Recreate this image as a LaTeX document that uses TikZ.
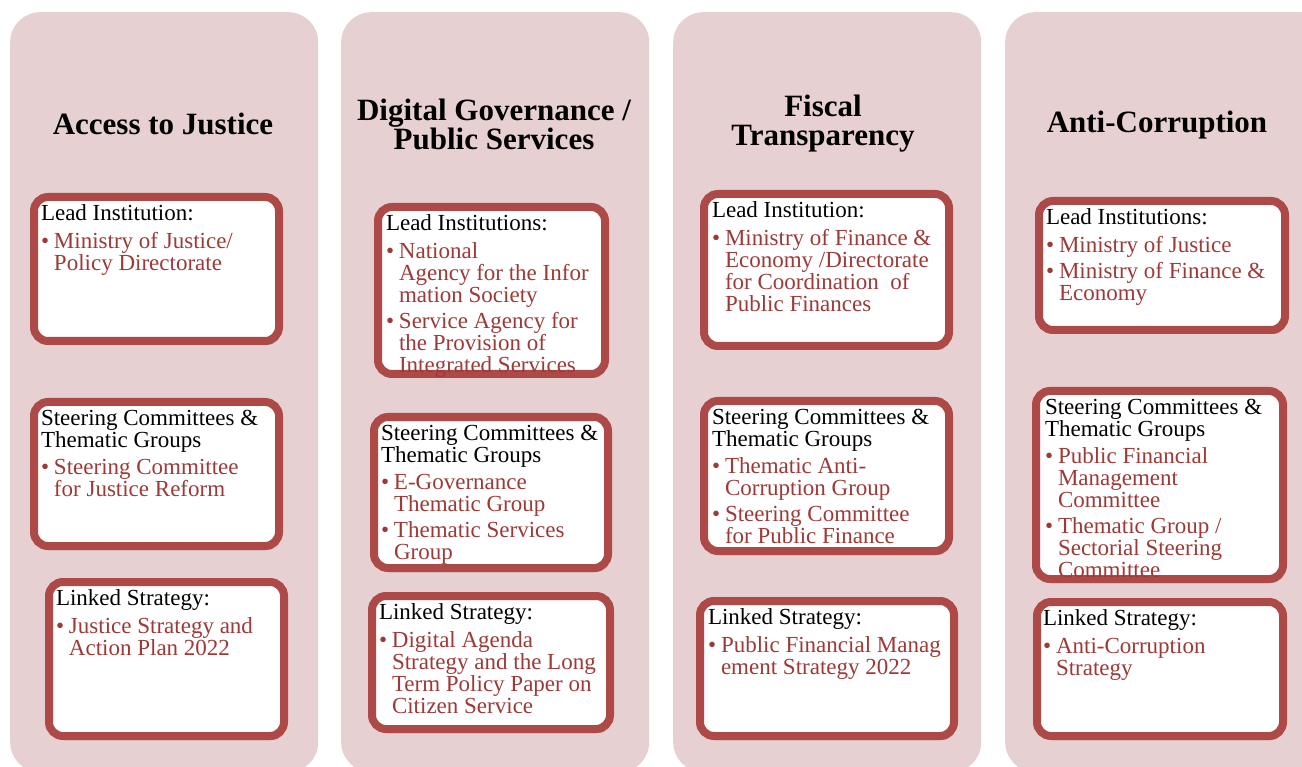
\documentclass[tikz,border=0pt]{standalone}
\usepackage{fontspec}
\setmainfont{Liberation Serif}
\usetikzlibrary{positioning,shadows}
\definecolor{colpink}{HTML}{E7D0D1}
\definecolor{boxred}{HTML}{AD4A47}
\definecolor{itemred}{HTML}{9D3A37}
\newcommand{\bul}{\color{itemred}\makebox[13pt][l]{\textbullet}}
\newcommand{\ind}{\color{itemred}\hspace*{13pt}}
\begin{document}
\begin{tikzpicture}[x=1pt,y=-1pt,
			column/.style={fill=colpink, rounded corners=30pt, anchor=north west, minimum width=308pt, minimum height=760pt},
			title/.style={font=\bfseries\fontsize{31pt}{29pt}\selectfont, align=center, inner sep=0pt},
			box/.style={draw=boxred, line width=8pt, fill=white, rounded corners=14pt, anchor=north west, inner sep=0pt,
				drop shadow={opacity=0.35, fill=black!70, shadow xshift=2pt, shadow yshift=-4pt}},
			boxtext/.style={font=\fontsize{23pt}{22pt}\selectfont, align=left, inner sep=0pt, outer sep=0pt, anchor=north west},
			]
			\useasboundingbox (0,0) rectangle (1302,767);
			\node[column] at (10,12) (justice) {};
			\node[column] at (341,12) (digital) {};
			\node[column] at (673,12) (fiscal) {};
			\node[column, minimum width=330pt] at (1005,12) (anticorr) {};
			\node[title] at (163,124) (justicetitle) {Access to Justice};
			\node[title] at (494,124) (digitaltitle) {Digital Governance /\\Public Services};
			\node[title] at (823,124) (fiscaltitle) {Fiscal\\Transparency};
			\node[title] at (1157,125) (anticorrtitle) {Anti-Corruption};
			\node[box, minimum width=245pt, minimum height=144pt] at (30,193) (jlead) {};
			\node[box, minimum width=245pt, minimum height=144pt] at (30,398) (jsteer) {};
			\node[box, minimum width=235pt, minimum height=154pt] at (45,578) (jstrat) {};
			\node[box, minimum width=227pt, minimum height=167pt] at (374,203) (dlead) {};
			\node[box, minimum width=234pt, minimum height=151pt] at (370,413) (dsteer) {};
			\node[box, minimum width=238pt, minimum height=133pt] at (368,592) (dstrat) {};
			\node[box, minimum width=245pt, minimum height=152pt] at (700,190) (flead) {};
			\node[box, minimum width=245pt, minimum height=150pt] at (700,397) (fsteer) {};
			\node[box, minimum width=254pt, minimum height=135pt] at (696,597) (fstrat) {};
			\node[box, minimum width=246pt, minimum height=129pt] at (1035,197) (alead) {};
			\node[box, minimum width=247pt, minimum height=188pt] at (1032,387) (asteer) {};
			\node[box, minimum width=246pt, minimum height=134pt] at (1033,598) (astrat) {};
			\node[boxtext, below right=12pt and 11pt of jlead.north west] (jleadtxt) {Lead Institution:\\[6pt]
				\bul Ministry of Justice/\\ \ind Policy Directorate};
			\node[boxtext, below right=12pt and 11pt of jsteer.north west] (jsteertxt) {Steering Committees \&\\Thematic Groups\\[5pt]
				\bul Steering Committee\\ \ind for Justice Reform};
			\node[boxtext, below right=12pt and 11pt of jstrat.north west] (jstrattxt) {Linked Strategy:\\[6pt]
				\bul Justice Strategy and\\ \ind Action Plan 2022};
			\node[boxtext, below right=12pt and 12pt of dlead.north west] (dleadtxt) {Lead Institutions:\\[6pt]
				\bul National\\ \ind Agency for the Infor\\ \ind mation Society\\[4pt]
				\bul Service Agency for\\ \ind the Provision of\\ \ind Integrated Services};
			\node[boxtext, below right=12pt and 11pt of dsteer.north west] (dsteertxt) {Steering Committees \&\\Thematic Groups\\[5pt]
				\bul E-Governance\\ \ind Thematic Group\\[4pt]
				\bul Thematic Services\\ \ind Group};
			\node[boxtext, below right=12pt and 11pt of dstrat.north west] (dstrattxt) {Linked Strategy:\\[6pt]
				\bul Digital Agenda\\ \ind Strategy and the Long\\ \ind Term Policy Paper on\\ \ind Citizen Service};
			\node[boxtext, below right=12pt and 12pt of flead.north west] (fleadtxt) {Lead Institution:\\[6pt]
				\bul Ministry of Finance \&\\ \ind Economy /Directorate\\ \ind for Coordination\ \ of\\ \ind Public Finances};
			\node[boxtext, below right=12pt and 12pt of fsteer.north west] (fsteertxt) {Steering Committees \&\\Thematic Groups\\[5pt]
				\bul Thematic Anti-\\ \ind Corruption Group\\[4pt]
				\bul Steering Committee\\ \ind for Public Finance};
			\node[boxtext, below right=12pt and 12pt of fstrat.north west] (fstrattxt) {Linked Strategy:\\[6pt]
				\bul Public Financial Manag\\ \ind ement Strategy 2022};
			\node[boxtext, below right=12pt and 11pt of alead.north west] (aleadtxt) {Lead Institutions:\\[6pt]
				\bul Ministry of Justice\\[4pt]
				\bul Ministry of Finance \&\\ \ind Economy};
			\node[boxtext, below right=12pt and 13pt of asteer.north west] (asteertxt) {Steering Committees \&\\Thematic Groups\\[5pt]
				\bul Public Financial\\ \ind Management\\ \ind Committee\\[4pt]
				\bul Thematic Group /\\ \ind Sectorial Steering\\ \ind Committee};
			\node[boxtext, below right=12pt and 10pt of astrat.north west] (astrattxt) {Linked Strategy:\\[6pt]
				\bul Anti-Corruption\\ \ind Strategy};
		\end{tikzpicture}
\end{document}
